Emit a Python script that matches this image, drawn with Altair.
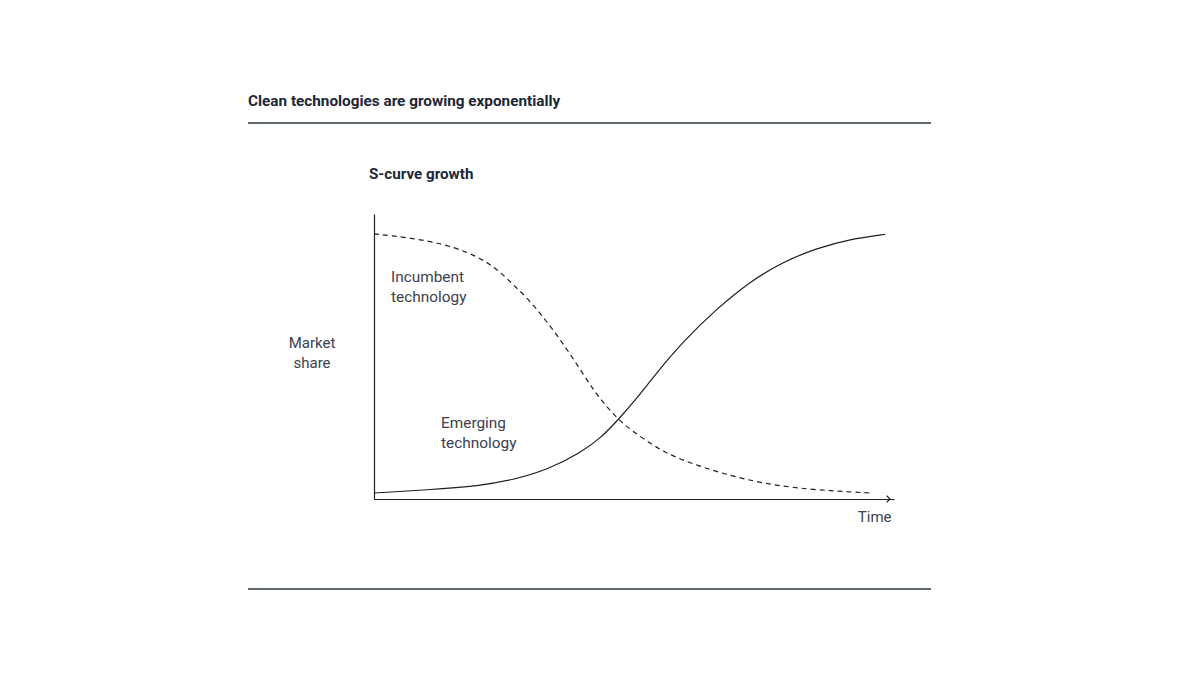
import altair as alt
import pandas as pd

# ---- data ----
emerging_time = [0, 10.2, 20.4, 26.7, 33.3, 39.6, 43.5, 46.9, 50.6, 54.0, 59.4, 66.0, 72.3,
                 78.7, 85.2, 91.5, 98.3]
emerging_share = [2.1, 3.2, 4.6, 6.7, 10.2, 16.1, 21.2, 27.7, 35.4, 43.5, 55.2, 66.9, 76.3,
                  83.3, 88.0, 91.2, 92.9]
incumbent_time = [0, 6.4, 12.9, 17.9, 21.7, 24.2, 26.7, 30.0, 32.5, 35.2, 37.7, 40.2, 42.5, 44.8,
                  46.9, 49.6, 54.4, 58.9, 69.0, 78.7, 88.3, 95.4]
incumbent_share = [93.0, 91.8, 89.7, 86.7, 83.2, 79.7, 75.4, 69.5, 63.9, 57.5, 50.9, 43.9, 37.5, 32.3,
                   28.1, 23.9, 17.9, 13.7, 7.7, 4.2, 2.8, 2.1]

title_text = "Clean technologies are growing exponentially"
subtitle_text = "S-curve growth"
y_label = "Market share"
x_label = "Time"
incumbent_label = "Incumbent technology"
emerging_label = "Emerging technology"

FONT = "Roboto"
NAVY = "#1c2737"
LABEL = "#3b4150"
LINE = "#1e1e1e"

W, H = 520, 285
# plot origin in page px: (374, 214); page margin 8
PAD_L, PAD_T = 366, 206

emerging = pd.DataFrame({"t": emerging_time, "s": emerging_share})
incumbent = pd.DataFrame({"t": incumbent_time, "s": incumbent_share})

xs = alt.Scale(domain=[0, 100], nice=False, zero=False)
ys = alt.Scale(domain=[0, 100], nice=False, zero=False)

x_axis = alt.Axis(domain=True, domainColor=LINE, domainWidth=1.2, ticks=False, labels=False,
                  grid=False, title=x_label, titleFont=FONT, titleFontSize=15,
                  titleFontWeight="normal", titleColor=LABEL, titleAnchor="end",
                  titleAlign="right", titlePadding=10, titleX=W - 3)
y_axis = alt.Axis(domain=True, domainColor=LINE, domainWidth=1.2, ticks=False, labels=False,
                  grid=False, title=None)

line_em = alt.Chart(emerging).mark_line(
    interpolate="basis", color=LINE, strokeWidth=1.2
).encode(
    x=alt.X("t:Q", scale=xs, axis=x_axis),
    y=alt.Y("s:Q", scale=ys, axis=y_axis),
)

line_in = alt.Chart(incumbent).mark_line(
    interpolate="basis", color=LINE, strokeWidth=1.2, strokeDash=[5, 4]
).encode(
    x=alt.X("t:Q", scale=xs),
    y=alt.Y("s:Q", scale=ys),
)

one = pd.DataFrame({"a": [0]})

arrow = alt.Chart(one).mark_point(
    shape="M -1 -1 L 0 0 L -1 1", filled=False, color=LINE, strokeWidth=1.3, size=45, opacity=1
).encode(x=alt.value(W - 4), y=alt.value(H))


def txt(content, x, y, size=15, weight="normal", color=LABEL, align="left", lh=20):
    return alt.Chart(pd.DataFrame({"label": [content]})).mark_text(
        font=FONT, fontSize=size, fontWeight=weight, color=color, align=align,
        baseline="alphabetic", lineBreak="\n", lineHeight=lh
    ).encode(text="label:N", x=alt.value(x), y=alt.value(y))


title = txt(title_text, 248 - 374, 106 - 214, size=15.3, weight="bold", color=NAVY)
subtitle = txt(subtitle_text, 369 - 374, 179 - 214, size=15.2, weight="bold", color=NAVY)
ylab = txt(y_label.replace(" ", "\n"), 312 - 374, 348 - 214, align="center")
inc = txt(incumbent_label.replace(" ", "\n"), 391 - 374, 282 - 214, size=15.4)
emg = txt(emerging_label.replace(" ", "\n"), 441 - 374, 428 - 214, size=15.4)

top_rule = alt.Chart(one).mark_rule(color="#2a3545", strokeWidth=1.3).encode(
    x=alt.value(248 - 374), x2=alt.value(931 - 374), y=alt.value(123 - 214))
bottom_rule = alt.Chart(one).mark_rule(color="#2a3545", strokeWidth=1.3).encode(
    x=alt.value(248 - 374), x2=alt.value(931 - 374), y=alt.value(589 - 214))

chart = alt.layer(
    line_em, line_in, arrow, title, subtitle, ylab, inc, emg, top_rule, bottom_rule
).properties(
    width=W, height=H,
    background="white",
    autosize=alt.AutoSizeParams(type="none"),
    padding={"left": PAD_L, "top": PAD_T, "right": 1184 - PAD_L - W, "bottom": 659 - PAD_T - H},
).configure_view(strokeWidth=0, stroke="transparent")

chart.save("out.html", embed_options={"renderer": "svg", "actions": False})
